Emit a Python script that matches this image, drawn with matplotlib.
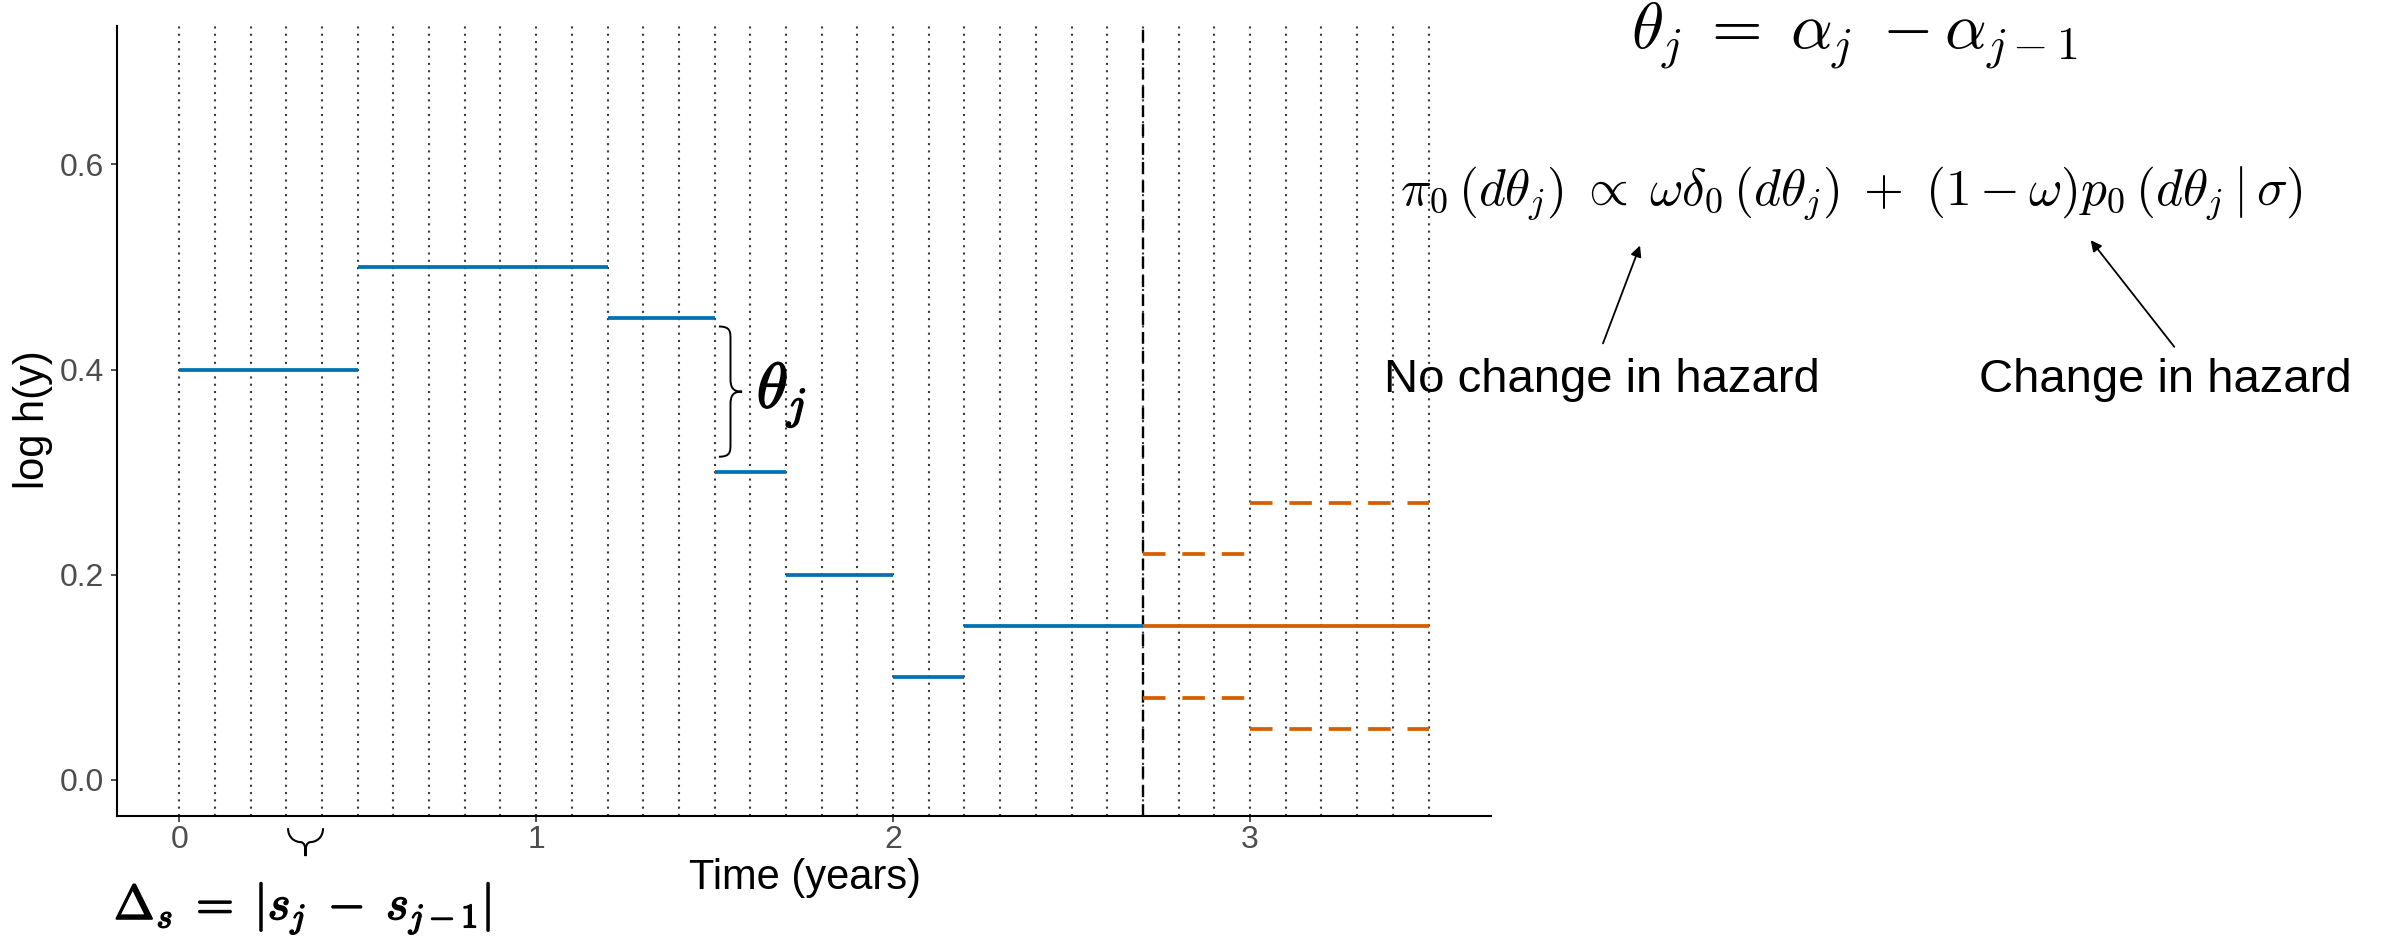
import matplotlib
matplotlib.use("Agg")
import matplotlib.pyplot as plt
import matplotlib.patheffects as pe
from matplotlib.path import Path
from matplotlib.patches import PathPatch

plt.rcParams['font.family'] = ['Liberation Sans', 'DejaVu Sans']
plt.rcParams['mathtext.fontset'] = 'cm'

# ---- data ----
grid_x = [round(0.1 * i, 1) for i in range(36)]          # dotted interval boundaries 0..3.5
split_x = 2.7                                              # dashed vertical line
obs_start = [0.0, 0.5, 1.2, 1.5, 1.7, 2.0, 2.2]
obs_end   = [0.5, 1.2, 1.5, 1.7, 2.0, 2.2, 2.7]
obs_val   = [0.40, 0.50, 0.45, 0.30, 0.20, 0.10, 0.15]
pred_start = [2.7]
pred_end   = [3.5]
pred_val   = [0.15]
band_start = [2.7, 2.7, 3.0, 3.0]
band_end   = [3.0, 3.0, 3.5, 3.5]
band_val   = [0.22, 0.08, 0.27, 0.05]
x_ticks = [0, 1, 2, 3]
x_ticklabels = ["0", "1", "2", "3"]
y_ticks = [0.0, 0.2, 0.4, 0.6]
y_ticklabels = ["0.0", "0.2", "0.4", "0.6"]

BLUE = "#0072B2"
ORANGE = "#D55E00"

W, H = 2381, 939
fig = plt.figure(figsize=(W / 100, H / 100), dpi=100)
ax = fig.add_axes([116.7 / W, 1 - 815.7 / H, (1491 - 116.7) / W, (815.7 - 26) / H])

ax.set_xlim(-0.175, 3.675)
ax.set_ylim(-0.035, 0.735)

for gx in grid_x:
    ax.axvline(gx, color="#3a3a3a", lw=1.5, ls=(0, (1, 2.5)), zorder=1)
ax.axvline(split_x, color="black", lw=1.7, ls=(0, (5, 3)), zorder=3)

ax.hlines(obs_val, obs_start, obs_end, color=BLUE, lw=2.7, zorder=4)
ax.hlines(pred_val, pred_start, pred_end, color=ORANGE, lw=2.7, zorder=4)
ax.hlines(band_val, band_start, band_end, color=ORANGE, lw=2.7,
          linestyles=[(0, (6, 4.5))], zorder=4)

for s in ["top", "right"]:
    ax.spines[s].set_visible(False)
for s in ["left", "bottom"]:
    ax.spines[s].set_linewidth(1.5)
    ax.spines[s].set_color("black")

ax.set_xticks(x_ticks)
ax.set_xticklabels(x_ticklabels)
ax.set_yticks(y_ticks)
ax.set_yticklabels(y_ticklabels)
ax.tick_params(axis="both", labelsize=23, labelcolor="#4D4D4D", color="#333333",
               length=4, width=1.2)
ax.tick_params(axis="x", pad=2.5)
ax.tick_params(axis="y", pad=5)

fig.text(805 / W, 1 - 878 / H, "Time (years)", fontsize=30, ha="center", va="center")
fig.text(33 / W, 1 - 420 / H, "log h(y)", fontsize=30, ha="center", va="center",
         rotation=90)

CURLY = ([(0, 0), (0.5, 0), (0.5, 0.04), (0.5, 0.1),
          (0.5, 0.4),
          (0.5, 0.47), (0.6, 0.5), (1, 0.5),
          (0.6, 0.5), (0.5, 0.53), (0.5, 0.6),
          (0.5, 0.9),
          (0.5, 0.96), (0.5, 1), (0, 1)],
         [Path.MOVETO, Path.CURVE4, Path.CURVE4, Path.CURVE4,
          Path.LINETO,
          Path.CURVE4, Path.CURVE4, Path.CURVE4,
          Path.CURVE4, Path.CURVE4, Path.CURVE4,
          Path.LINETO,
          Path.CURVE4, Path.CURVE4, Path.CURVE4])
ROUND = ([(0, 0), (0.35, 0), (0.5, 0.2), (0.5, 0.38),
          (0.55, 0.47), (0.6, 0.5), (1, 0.5),
          (0.6, 0.5), (0.55, 0.53), (0.5, 0.62),
          (0.5, 0.8), (0.35, 1), (0, 1)],
         [Path.MOVETO, Path.CURVE4, Path.CURVE4, Path.CURVE4,
          Path.CURVE4, Path.CURVE4, Path.CURVE4,
          Path.CURVE4, Path.CURVE4, Path.CURVE4,
          Path.CURVE4, Path.CURVE4, Path.CURVE4])


def brace(ax, a0, a1, c0, width, vertical=True, shape=CURLY, lw=1.4):
    """Curly brace spanning a0..a1 along one axis, base at c0, tip at c0+width."""
    uv, codes = shape
    pts = []
    for u, v in uv:
        along = a0 + v * (a1 - a0)
        across = c0 + u * width
        pts.append((across, along) if vertical else (along, across))
    patch = PathPatch(Path(pts, codes), fill=False, lw=lw, color="black",
                      clip_on=False, zorder=5)
    ax.add_patch(patch)


bold = [pe.withStroke(linewidth=1.1, foreground="black")]

# brace between the 0.45 and 0.30 levels
brace(ax, 0.315, 0.442, 1.512, 0.065, vertical=True)
ax.text(1.618, 0.375, r"$\theta_j$", fontsize=46, ha="left", va="center",
        path_effects=bold)

# small brace under one interval on the x axis
brace(ax, 0.305, 0.403, -0.0472, -0.0272, vertical=False, shape=ROUND, lw=1.5)

fig.text(114 / W, 1 - 909 / H,
         r"$\Delta_s\;=\;|s_j\;-\;s_{j-1}|$",
         fontsize=35, ha="left", va="center", path_effects=bold)

fig.text(1854 / W, 1 - 36 / H, r"$\theta_j\;=\;\alpha_j\;-\alpha_{j-1}$",
         fontsize=47, ha="center", va="center")
fig.text(1851 / W, 1 - 194 / H,
         r"$\pi_0\,(d\theta_j)\;\propto\;\omega\delta_0\,(d\theta_j)\;+\;(1-\omega)p_0\,(d\theta_j\mid\sigma)$",
         fontsize=37, ha="center", va="center")

fig.text(1602 / W, 1 - 380 / H, "No change in hazard", fontsize=34,
         ha="center", va="center")
fig.text(2165 / W, 1 - 380 / H, "Change in hazard", fontsize=34,
         ha="center", va="center")

arrow_kw = dict(arrowstyle="-|>", lw=1.3, color="black", mutation_scale=16)
ax.annotate("", xy=(1641, H - 243), xycoords="figure pixels",
            xytext=(1602, H - 346), textcoords="figure pixels",
            arrowprops=arrow_kw, annotation_clip=False)
ax.annotate("", xy=(2089, H - 238), xycoords="figure pixels",
            xytext=(2176, H - 349), textcoords="figure pixels",
            arrowprops=arrow_kw, annotation_clip=False)

fig.savefig("out.png", dpi=100, facecolor="white")
